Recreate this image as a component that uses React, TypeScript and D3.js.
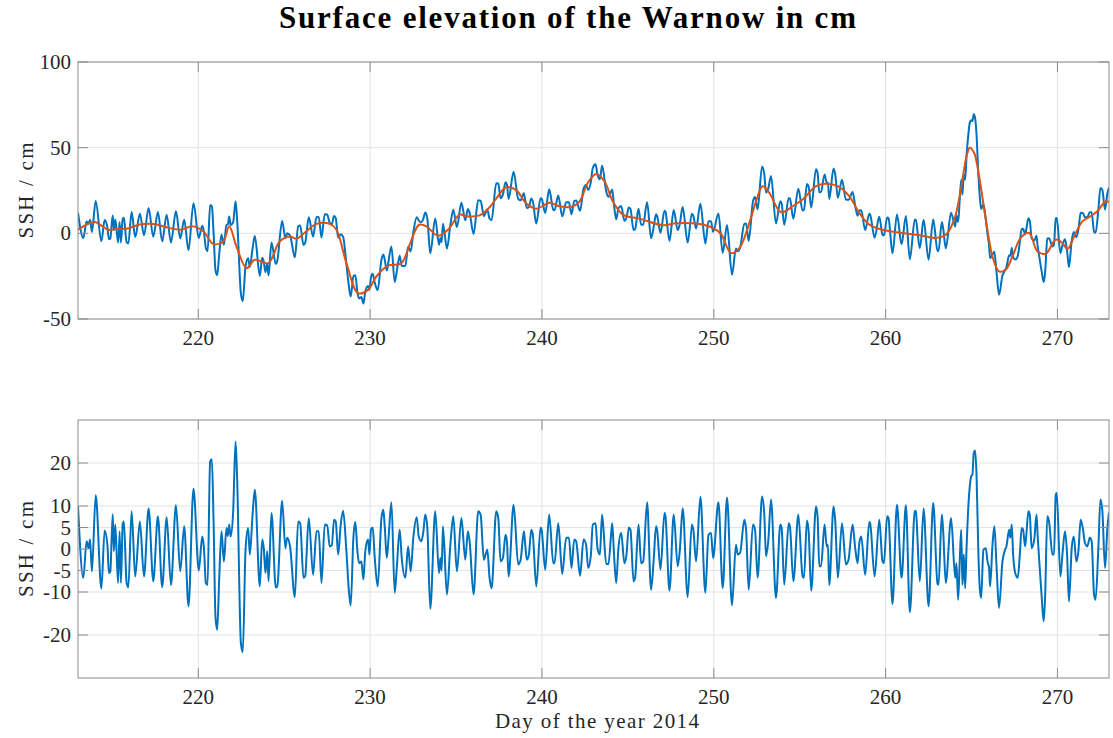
import React from 'react';
import * as d3 from 'd3';

// Residual (tidal) signal: day of year 2014 and SSH residual in cm
const resDays = [
  213.00, 213.31, 213.50, 213.62, 213.70, 213.81, 214.03, 214.36, 214.55, 214.71, 214.80, 214.88,
  215.02, 215.09, 215.17, 215.33, 215.42, 215.50, 215.60, 215.67, 215.83, 215.93, 216.12, 216.33,
  216.60, 216.84, 217.11, 217.38, 217.65, 217.90, 218.16, 218.41, 218.70, 218.95, 219.18, 219.43,
  219.72, 220.03, 220.23, 220.33, 220.44, 220.54, 220.69, 220.79, 220.89, 221.00, 221.10, 221.22,
  221.35, 221.49, 221.64, 221.72, 221.80, 221.88, 222.03, 222.17, 222.26, 222.48, 222.59, 222.75,
  222.90, 223.00, 223.16, 223.29, 223.58, 223.72, 223.81, 223.91, 224.01, 224.09, 224.26, 224.51,
  224.59, 224.88, 225.07, 225.17, 225.34, 225.62, 225.81, 225.93, 226.12, 226.22, 226.43, 226.68,
  226.88, 227.01, 227.17, 227.36, 227.50, 227.65, 227.77, 227.90, 228.00, 228.14, 228.29, 228.43,
  228.62, 228.76, 228.87, 229.03, 229.14, 229.26, 229.36, 229.49, 229.61, 229.72, 229.88, 229.96,
  230.05, 230.15, 230.27, 230.44, 230.66, 230.77, 230.85, 230.97, 231.06, 231.24, 231.43, 231.55,
  231.72, 231.84, 232.05, 232.21, 232.36, 232.52, 232.71, 232.83, 232.98, 233.10, 233.21, 233.33,
  233.50, 233.79, 234.01, 234.09, 234.16, 234.24, 234.47, 234.67, 234.84, 235.05, 235.31, 235.54,
  235.69, 235.79, 236.02, 236.29, 236.43, 236.62, 236.72, 236.82, 236.95, 237.07, 237.34, 237.46,
  237.59, 237.73, 237.88, 237.96, 238.06, 238.35, 238.62, 238.76, 238.95, 239.01, 239.12, 239.24,
  239.38, 239.47, 239.67, 239.92, 239.98, 240.19, 240.42, 240.66, 240.73, 240.95, 241.18, 241.41,
  241.57, 241.72, 241.88, 241.99, 242.22, 242.42, 242.57, 242.69, 242.84, 242.96, 243.12, 243.23,
  243.37, 243.50, 243.74, 243.87, 244.03, 244.09, 244.18, 244.32, 244.45, 244.61, 244.80, 244.92,
  245.05, 245.15, 245.33, 245.42, 245.62, 245.77, 245.89, 246.12, 246.35, 246.51, 246.64, 246.70,
  246.90, 247.13, 247.19, 247.42, 247.67, 247.90, 248.02, 248.19, 248.48, 248.72, 248.81, 248.97,
  249.22, 249.51, 249.69, 249.84, 249.96, 250.27, 250.52, 250.77, 251.06, 251.29, 251.39, 251.53,
  251.78, 251.88, 252.03, 252.28, 252.40, 252.55, 252.81, 252.94, 253.04, 253.17, 253.33, 253.62,
  253.87, 253.95, 254.10, 254.36, 254.43, 254.63, 254.92, 255.17, 255.25, 255.42, 255.52, 255.67,
  255.95, 256.04, 256.14, 256.24, 256.45, 256.57, 256.64, 256.72, 256.97, 257.07, 257.22, 257.46,
  257.69, 257.84, 258.08, 258.23, 258.37, 258.47, 258.58, 258.81, 259.05, 259.10, 259.36, 259.63,
  259.82, 259.90, 260.09, 260.17, 260.40, 260.66, 260.93, 261.18, 261.41, 261.70, 261.76, 261.99,
  262.21, 262.50, 262.77, 263.02, 263.08, 263.27, 263.35, 263.50, 263.81, 264.05, 264.12, 264.22,
  264.32, 264.40, 264.47, 264.55, 264.63, 264.71, 264.82, 264.90, 264.98, 265.05, 265.13, 265.21,
  265.29, 265.40, 265.48, 265.56, 265.69, 265.83, 265.93, 266.02, 266.08, 266.22, 266.33, 266.45,
  266.60, 266.80, 266.95, 267.03, 267.19, 267.26, 267.34, 267.42, 267.57, 267.69, 267.81, 267.92,
  268.00, 268.12, 268.19, 268.31, 268.39, 268.50, 268.66, 268.78, 268.85, 268.93, 269.08, 269.20,
  269.28, 269.41, 269.51, 269.71, 269.80, 269.90, 269.96, 270.17, 270.29, 270.44, 270.56, 270.67,
  270.83, 270.95, 271.10, 271.22, 271.35, 271.49, 271.60, 271.74, 271.88, 271.99, 272.13, 272.22,
  272.38, 272.50, 272.61, 272.77, 272.90, 273.00,
];
const resVals = [
  10.0, -6.7, 1.8, 0.2, 2.2, -5.2, 12.5, -9.2, 4.3, 1.0, -5.6, -5.2,
  8.1, -0.5, 5.7, -7.9, 4.1, -7.9, 5.7, 6.4, -7.9, -8.9, 8.8, -6.4,
  6.4, -6.4, 9.4, -7.5, 7.6, -8.9, 7.4, -8.4, 10.2, -5.2, 5.3, -13.3,
  14.0, -5.0, 2.9, 0.2, -7.9, -8.4, 20.4, 20.9, 6.4, -15.7, -18.8, -6.7,
  4.1, -2.9, 4.9, 3.0, 5.7, 2.9, 8.8, 25.0, 16.5, -21.9, -24.0, -0.2,
  4.9, -1.3, 8.0, 13.8, -8.7, 2.2, 0.2, -5.6, -0.5, -7.5, 8.4, -8.9,
  -8.9, 11.2, 0.2, 2.6, 0.6, -11.2, 6.4, 6.0, -6.7, -6.3, 7.2, -6.0,
  4.1, 4.1, -7.9, 5.7, 5.5, 0.6, 0.8, 6.8, 6.4, -1.3, 5.7, 8.9,
  -0.5, -9.5, -13.1, 2.9, 6.3, -0.5, -3.3, -2.9, -7.1, -0.5, 2.2, -1.3,
  4.5, 5.0, -2.1, -8.7, 7.2, 9.1, 5.3, -2.1, 1.8, 10.9, -10.2, -4.5,
  4.5, -2.1, -6.7, 0.6, -5.2, 2.9, 7.4, 2.9, 1.8, 4.1, 8.0, 4.9,
  -13.9, 8.8, -5.6, -2.1, -5.0, 5.3, -10.6, 1.0, 7.6, -5.2, 7.2, -2.5,
  4.1, 1.8, -10.6, 8.8, 8.0, -2.5, -1.3, -0.2, -6.7, -9.1, 8.8, 7.2,
  -2.9, -2.1, 3.3, 1.8, -6.4, 10.3, -3.6, -2.5, 4.1, 1.8, -2.5, -1.3,
  4.5, 3.3, -8.7, 5.0, 4.5, -4.8, 8.0, -3.3, -3.3, 6.0, -5.8, 2.6,
  2.6, -4.4, 2.2, 1.8, -6.2, 2.2, 1.0, -4.4, -1.7, 5.7, 6.0, 0.2,
  -1.3, 8.0, -3.5, -3.5, 3.7, 6.0, -0.2, -7.9, 0.2, 3.7, -3.3, -1.3,
  5.0, 4.5, -7.5, -6.7, 5.7, -3.3, -2.9, 10.9, -9.5, -2.1, 5.3, 4.5,
  -4.8, 8.4, 7.6, -9.7, 8.0, -4.0, -0.5, 9.5, -11.2, 5.7, 4.5, -2.9,
  12.2, -10.2, 3.3, 3.7, -2.1, 10.9, -9.1, 12.0, -13.1, 1.0, -1.3, -0.9,
  6.8, 4.5, -9.5, 5.7, 4.5, -6.7, 12.2, 8.0, -1.7, 1.8, 11.5, -11.4,
  5.7, 4.9, -8.3, 6.0, 5.3, -7.5, 8.0, -6.4, -6.7, 6.6, 4.1, -9.7,
  9.9, 7.6, -4.0, -4.0, 5.7, 0.6, 1.0, -8.4, 9.9, 6.4, -6.7, 6.0,
  -3.6, -2.5, 5.7, 0.2, -3.3, 1.4, 2.9, -6.0, 6.3, 6.0, -6.4, 6.8,
  -2.9, -3.3, 7.6, 7.2, -12.8, 10.3, -6.7, 10.2, -14.7, 8.9, 8.7, -7.5,
  9.4, -13.3, 10.7, -8.1, -8.3, 8.0, 4.1, -7.9, 7.2, -6.7, -3.3, -11.8,
  -2.1, 4.5, -8.3, -1.3, -9.1, 0.2, 10.3, 14.6, 16.9, 17.3, 22.3, 22.9,
  17.3, -1.3, -9.1, -11.4, -0.2, 0.2, -2.9, -4.4, -8.7, 1.0, 5.3, -3.6,
  -13.7, -2.9, -0.2, 0.6, 4.5, 2.6, 5.7, -1.3, -6.0, -6.7, -1.3, 4.9,
  4.5, 0.6, 3.3, 8.8, 8.0, 0.2, 2.6, 8.0, 2.9, -2.1, -11.0, -16.8,
  -11.4, 7.6, 6.4, -1.3, -1.3, 12.6, 13.0, -6.4, -1.3, 4.1, -1.3, -12.2,
  0.2, 2.9, -2.9, -0.5, 6.8, 4.5, 1.4, 0.6, 2.6, 1.8, -10.6, -11.8,
  0.2, 11.5, 9.1, -4.4, 4.5, 8.5,
];

// Low-pass filtered (smoothed) surface elevation in cm
const smDays = [
  213.00, 213.50, 213.99, 214.28, 214.76, 215.25, 215.83, 216.60, 217.38, 218.16, 219.03, 219.61,
  220.29, 220.87, 221.45, 221.80, 222.22, 222.81, 223.29, 224.07, 224.74, 225.33, 225.71, 226.29,
  226.88, 227.65, 228.04, 228.62, 229.30, 229.88, 230.36, 231.04, 231.82, 232.30, 232.85, 233.27,
  233.95, 234.53, 235.21, 235.60, 236.37, 236.95, 237.44, 237.92, 238.50, 239.09, 239.67, 240.44,
  241.02, 241.70, 242.19, 242.67, 243.16, 243.64, 244.12, 244.71, 245.67, 247.03, 247.81, 248.97,
  249.94, 250.42, 251.00, 251.49, 252.07, 252.46, 252.84, 253.23, 253.91, 254.59, 255.17, 255.95,
  256.53, 257.21, 257.88, 258.47, 259.05, 259.82, 260.98, 262.15, 262.83, 263.50, 263.99, 264.38,
  264.71, 264.90, 265.15, 265.44, 265.83, 266.22, 266.60, 266.99, 267.38, 267.86, 268.35, 268.83,
  269.32, 269.90, 270.29, 270.58, 270.97, 271.45, 271.84, 272.32, 272.81, 273.00,
];
const smVals = [
  2.1, 5.1, 6.6, 5.1, 2.1, 2.5, 2.7, 5.1, 5.5, 3.5, 2.1, 4.1,
  1.2, -6.2, -4.7, 4.1, -7.6, -20.3, -15.4, -17.4, -4.7, -1.8, -3.1, 1.2,
  5.5, 5.5, 2.1, -17.4, -34.9, -33.0, -25.2, -18.9, -17.4, -6.6, 5.0, 4.1,
  -1.4, 2.1, 10.9, 10.0, 10.5, 15.2, 21.7, 26.9, 25.2, 17.4, 14.4, 17.8,
  15.8, 15.4, 18.7, 29.5, 34.7, 30.4, 18.7, 10.9, 8.6, 4.7, 5.9, 5.7,
  3.1, -0.4, -11.5, -8.6, 6.1, 18.7, 27.5, 23.6, 12.3, 15.8, 19.7, 27.5,
  28.9, 27.5, 21.7, 11.9, 5.1, 2.1, 0.2, -1.4, -2.7, -0.8, 8.0, 25.6,
  45.1, 50.0, 47.0, 33.4, 8.0, -13.5, -22.2, -21.3, -13.5, -2.7, 0.2, -10.5,
  -11.9, -3.7, -5.7, -9.2, -1.8, 7.0, 9.4, 12.9, 18.7, 18.2,
];

const xTicks = [220, 230, 240, 250, 260, 270];
const yTicksTop = [-50, 0, 50, 100];
const yTicksBot = [-20, -10, -5, 0, 5, 10, 20];

const W = 1113;
const H = 738;
const L = 78;
const R = 1109;
const TOP1 = 62;
const BOT1 = 319;
const TOP2 = 420;
const BOT2 = 678;
const BLUE = '#0072BD';
const ORANGE = '#D95319';
const AXC = '#8c8c8c';
const GRIDC = '#e3e3e3';
const TXT = '#262626';
const FONT = '"Liberation Serif", "Times New Roman", serif';
const TICKLEN = 10;

function Axes({ x, y, top, bottom, yTicks, id, children }: any) {
  return (
    <g>
      <defs>
        <clipPath id={id}>
          <rect x={L} y={top} width={R - L} height={bottom - top} />
        </clipPath>
      </defs>
      {xTicks.map((t) => (
        <line key={'gx' + t} x1={x(t)} x2={x(t)} y1={top} y2={bottom} stroke={GRIDC} strokeWidth={1} />
      ))}
      {yTicks.map((t: number) => (
        <line key={'gy' + t} x1={L} x2={R} y1={y(t)} y2={y(t)} stroke={GRIDC} strokeWidth={1} />
      ))}
      <g clipPath={`url(#${id})`}>{children}</g>
      <rect x={L} y={top} width={R - L} height={bottom - top} fill="none" stroke={AXC} strokeWidth={1} />
      {xTicks.map((t) => (
        <g key={'tx' + t}>
          <line x1={x(t)} x2={x(t)} y1={bottom} y2={bottom - TICKLEN} stroke={AXC} strokeWidth={1} />
          <line x1={x(t)} x2={x(t)} y1={top} y2={top + TICKLEN} stroke={AXC} strokeWidth={1} />
          <text x={x(t)} y={bottom + 26} textAnchor="middle" fontFamily={FONT} fontSize={21} fill={TXT}>
            {t}
          </text>
        </g>
      ))}
      {yTicks.map((t: number) => (
        <g key={'ty' + t}>
          <line x1={L} x2={L + TICKLEN} y1={y(t)} y2={y(t)} stroke={AXC} strokeWidth={1} />
          <line x1={R} x2={R - TICKLEN} y1={y(t)} y2={y(t)} stroke={AXC} strokeWidth={1} />
          <text x={71} y={y(t) + 7} textAnchor="end" fontFamily={FONT} fontSize={21} fill={TXT}>
            {t}
          </text>
        </g>
      ))}
      <text
        x={33}
        y={(top + bottom) / 2}
        transform={`rotate(-90, 33, ${(top + bottom) / 2})`}
        textAnchor="middle"
        fontFamily={FONT}
        fontSize={21}
        fill={TXT}
        textLength={96}
        lengthAdjust="spacing"
      >
        SSH / cm
      </text>
    </g>
  );
}

export default function App() {
  const x = d3.scaleLinear().domain([213, 273]).range([L, R]);
  const y1 = d3.scaleLinear().domain([-50, 100]).range([BOT1, TOP1]);
  const y2 = d3.scaleLinear().domain([-30, 30]).range([BOT2, TOP2]);
  const smooth = d3.scaleLinear().domain(smDays).range(smVals);

  const rawTop: [number, number][] = resDays.map((d, i) => [d, smooth(d) + resVals[i]]);
  const resid: [number, number][] = resDays.map((d, i) => [d, resVals[i]]);
  const sm: [number, number][] = smDays.map((d, i) => [d, smVals[i]]);

  const lineTop = d3
    .line<[number, number]>()
    .x((d) => x(d[0]))
    .y((d) => y1(d[1]))
    .curve(d3.curveMonotoneX);
  const lineSm = d3
    .line<[number, number]>()
    .x((d) => x(d[0]))
    .y((d) => y1(d[1]))
    .curve(d3.curveCatmullRom.alpha(0.5));
  const lineBot = d3
    .line<[number, number]>()
    .x((d) => x(d[0]))
    .y((d) => y2(d[1]))
    .curve(d3.curveMonotoneX);

  return (
    <svg
      width={W}
      height={H}
      viewBox={`0 0 ${W} ${H}`}
      style={{ position: 'absolute', left: 0, top: 0, background: '#fff' }}
    >
      <rect x={0} y={0} width={W} height={H} fill="#fff" />
      <text
        x={567.5}
        y={28}
        textAnchor="middle"
        fontFamily={FONT}
        fontWeight="bold"
        fontSize={31}
        fill="#000"
        textLength={577}
        lengthAdjust="spacing"
      >
        Surface elevation of the Warnow in cm
      </text>
      <Axes x={x} y={y1} top={TOP1} bottom={BOT1} yTicks={yTicksTop} id="clipTop">
        <path d={lineTop(rawTop) || ''} fill="none" stroke={BLUE} strokeWidth={2} strokeLinejoin="round" />
        <path d={lineSm(sm) || ''} fill="none" stroke={ORANGE} strokeWidth={2} strokeLinejoin="round" />
      </Axes>
      <Axes x={x} y={y2} top={TOP2} bottom={BOT2} yTicks={yTicksBot} id="clipBot">
        <path d={lineBot(resid) || ''} fill="none" stroke={BLUE} strokeWidth={2} strokeLinejoin="round" />
      </Axes>
      <text
        x={597}
        y={728}
        textAnchor="middle"
        fontFamily={FONT}
        fontSize={21}
        fill={TXT}
        textLength={204}
        lengthAdjust="spacing"
      >
        Day of the year 2014
      </text>
    </svg>
  );
}
